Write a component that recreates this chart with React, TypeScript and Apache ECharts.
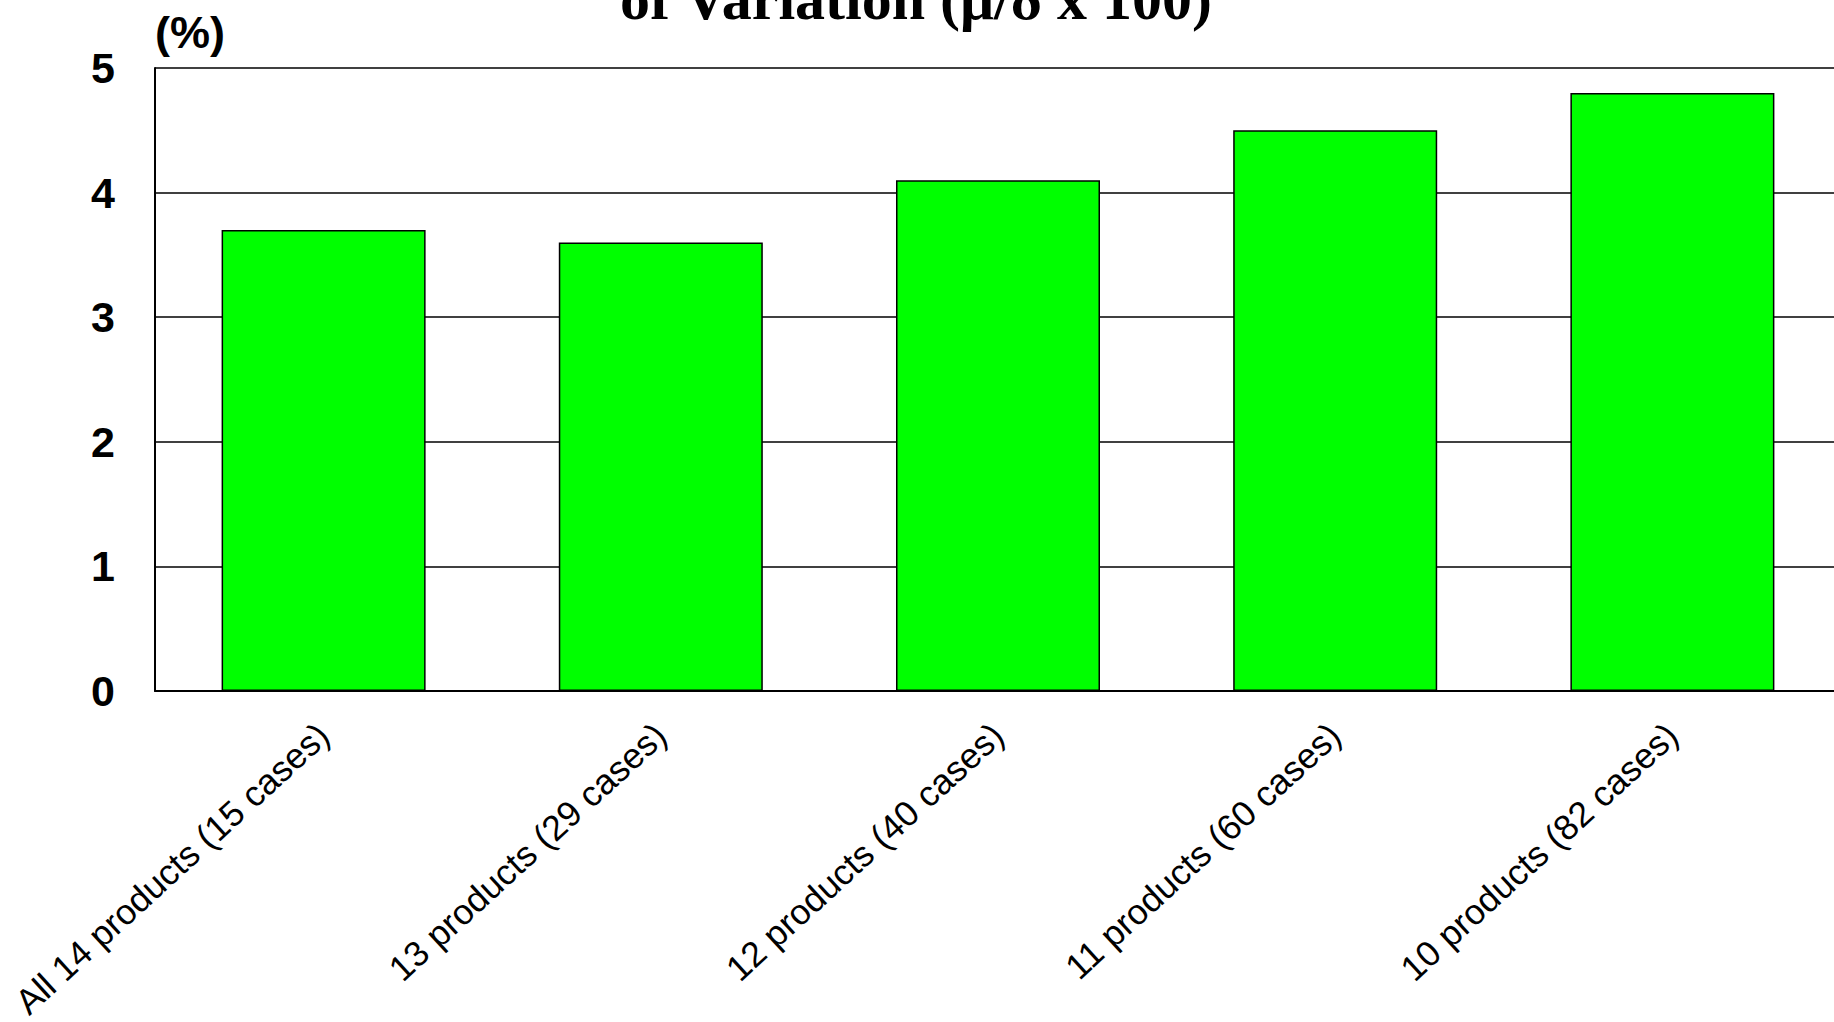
import React, { useEffect, useRef } from "react";
import * as echarts from "echarts";

const categories = [
  "All 14 products (15 cases)",
  "13 products (29 cases)",
  "12 products (40 cases)",
  "11 products (60 cases)",
  "10 products (82 cases)",
];
const values = [3.7, 3.6, 4.1, 4.5, 4.8];
const yTicks = [0, 1, 2, 3, 4, 5];
const titleText = "of Variation (\u03bc/\u03b4 x 100)";
const unitText = "(%)";

export default function App() {
  const ref = useRef<HTMLDivElement>(null);
  useEffect(() => {
    if (!ref.current) return;
    const chart = echarts.init(ref.current, null, { renderer: "svg" });
    chart.setOption({
      animation: false,
      backgroundColor: "#ffffff",
      grid: {
        left: 155,
        top: 68,
        width: 1686,
        height: 623,
        containLabel: false,
        outerBoundsMode: "none",
      },
      graphic: [
        {
          type: "text",
          style: {
            text: titleText,
            x: 916,
            y: 29,
            align: "center",
            verticalAlign: "bottom",
            font: "bold 60px 'Liberation Serif', 'Times New Roman', serif",
            fill: "#000",
          },
        },
        {
          type: "text",
          style: {
            text: unitText,
            x: 155,
            y: 32,
            align: "left",
            verticalAlign: "middle",
            font: "bold 45px 'Liberation Sans', Arial, sans-serif",
            fill: "#000",
          },
        },
      ],
      xAxis: {
        type: "category",
        data: categories,
        axisLine: { show: true, lineStyle: { color: "#000", width: 2 } },
        axisTick: { show: false },
        axisLabel: {
          rotate: 42.5,
          margin: 39,
          interval: 0,
          color: "#000",
          fontSize: 35.5,
          fontFamily: "'Liberation Sans', Arial, sans-serif",
        },
      },
      yAxis: {
        type: "value",
        min: yTicks[0],
        max: yTicks[yTicks.length - 1],
        interval: 1,
        axisLine: { show: true, lineStyle: { color: "#000", width: 2 } },
        axisTick: { show: false },
        splitLine: { show: true, lineStyle: { color: "#000", width: 1.5 } },
        axisLabel: {
          margin: 40,
          color: "#000",
          fontSize: 43,
          fontWeight: "bold",
          fontFamily: "'Liberation Sans', Arial, sans-serif",
        },
      },
      series: [
        {
          type: "bar",
          data: values,
          barWidth: "60.5%",
          itemStyle: { color: "#00ff00", borderColor: "#000", borderWidth: 1.5 },
        },
      ],
    });
    return () => chart.dispose();
  }, []);
  return (
    <div
      ref={ref}
      style={{ position: "fixed", left: 0, top: 0, width: 1834, height: 1022 }}
    />
  );
}
